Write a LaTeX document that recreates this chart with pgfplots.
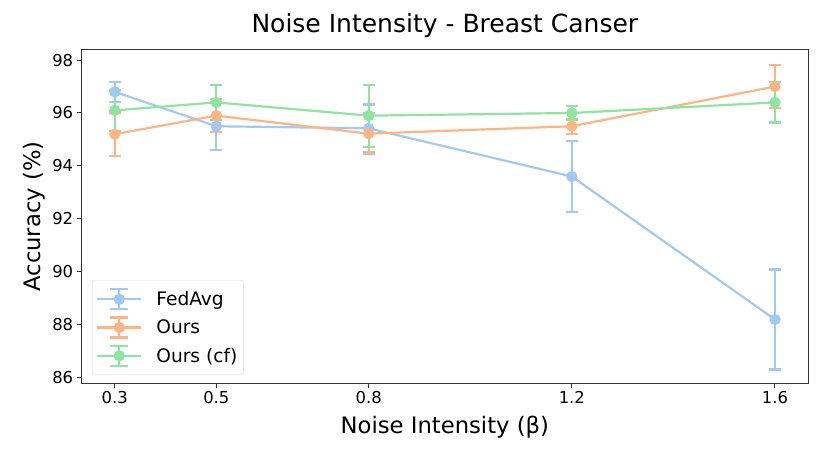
\documentclass[border=0pt]{standalone}
\usepackage{pgfplots}
\pgfplotsset{compat=1.18}
\usepackage{fontspec}
\setmainfont{DejaVu Sans}
\definecolor{cblue}{HTML}{A1C9F4}
\definecolor{corange}{HTML}{FFB482}
\definecolor{cgreen}{HTML}{8DE5A1}
\definecolor{frame}{HTML}{333333}

\pgfplotstableread{
x y e
0.3 96.80 0.38
0.5 95.50 0.90
0.8 95.42 0.90
1.2 93.60 1.35
1.6 88.20 1.89
}\fedavg
\pgfplotstableread{
x y e
0.3 95.20 0.82
0.5 95.90 0.62
0.8 95.22 0.78
1.2 95.50 0.28
1.6 97.00 0.80
}\ours
\pgfplotstableread{
x y e
0.3 96.10 0.77
0.5 96.40 0.67
0.8 95.90 1.17
1.2 96.00 0.27
1.6 96.40 0.76
}\ourscf

\begin{document}
\begin{tikzpicture}
\useasboundingbox (-81.7pt,-78pt) rectangle (748.3pt,383pt);
\begin{axis}[
  at={(0pt,0pt)}, anchor=south west,
  scale only axis, width=726.3pt, height=333pt,
  xmin=0.235, xmax=1.665, ymin=85.8, ymax=98.38,
  xtick={0.3,0.5,0.8,1.2,1.6},
  xticklabels={0.3,0.5,0.8,1.2,1.6},
  ytick={86,88,90,92,94,96,98},
  tickpos=left, tick align=outside,
  major tick length=5pt,
  every tick/.style={frame, line width=1pt},
  axis line style={frame, line width=1pt},
  /pgf/number format/assume math mode=true,
  tick label style={font=\fontsize{16.4}{19}\selectfont},
  title={Noise Intensity - Breast Canser},
  title style={font=\fontsize{25}{28}\selectfont, at={([yshift=11pt]rel axis cs:0.5,1)}, anchor=base, inner sep=0pt},
  xlabel={Noise Intensity (β)},
  xlabel style={font=\fontsize{22.7}{26}\selectfont, at={([yshift=-50pt]rel axis cs:0.5,0)}, anchor=base, inner sep=0pt},
  ylabel={Accuracy (\%)},
  ylabel style={font=\fontsize{22.7}{26}\selectfont, at={([xshift=-58.7pt]rel axis cs:0,0.5)}, anchor=north, inner sep=0pt},
  error bars/y dir=both, error bars/y explicit,
  error bars/error mark=-,
  error bars/error mark options={rotate=90, line width=2.2pt, mark size=6pt},
  error bars/error bar style={line width=2.2pt},
  clip=false,
  legend image code/.code={
    \draw[#1] (0pt,0pt) -- (44pt,0pt);
    \draw[#1] (22pt,-10pt) -- (22pt,10pt);
    \draw[#1] (13pt,-10pt) -- (31pt,-10pt);
    \draw[#1] (13pt,10pt) -- (31pt,10pt);
    \fill[#1] (22pt,0pt) circle (4.5pt);
  },
  legend cell align=left,
  legend style={at={(rel axis cs:0.0142,0.024)}, anchor=south west,
    font=\fontsize{18.6}{22}\selectfont, draw=black!15, rounded corners=3pt,
    fill=white, inner xsep=4pt, inner ysep=8pt, row sep=6pt, column sep=12pt},
]
\addplot[cblue, line width=2.2pt, mark=*, mark size=4.5pt, mark options={solid}] table[x=x, y=y, y error=e] {\fedavg};
\addlegendentry{FedAvg}
\addplot[corange, line width=2.2pt, mark=*, mark size=4.5pt, mark options={solid}] table[x=x, y=y, y error=e] {\ours};
\addlegendentry{Ours}
\addplot[cgreen, line width=2.2pt, mark=*, mark size=4.5pt, mark options={solid}] table[x=x, y=y, y error=e] {\ourscf};
\addlegendentry{Ours (cf)}
\end{axis}
\end{tikzpicture}
\end{document}
